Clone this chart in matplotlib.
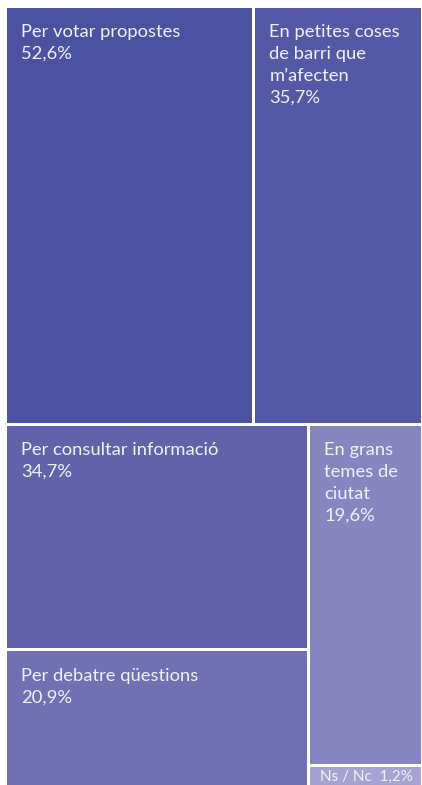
import matplotlib.pyplot as plt
from matplotlib.patches import Rectangle

# Dades del treemap
labels = ["Per votar propostes", "En petites coses\nde barri que\nm\u2019afecten",
          "Per consultar informació", "Per debatre qüestions",
          "En grans\ntemes de\nciutat", "Ns / Nc"]
values = [52.6, 35.7, 34.7, 20.9, 19.6, 1.2]
pct_labels = ["52,6%", "35,7%", "34,7%", "20,9%", "19,6%", "1,2%"]
colors = ["#4B52A1", "#5459A7", "#6262AA", "#7070B2", "#8886C0", "#A6A2D2"]

W_PX, H_PX = 422, 785
x0, y0, x1, y1 = 5, 6, 422, 786
W, H = x1 - x0, y1 - y0
total = sum(values)

rects = []
# fila superior: dos primers valors
top_h = H * (values[0] + values[1]) / total
w0 = W * values[0] / (values[0] + values[1])
rects.append((x0, y0, w0, top_h))
rects.append((x0 + w0, y0, W - w0, top_h))
# part inferior: dues columnes
bot_y = y0 + top_h
bot_h = H - top_h
col1 = values[2] + values[3]
col2 = values[4] + values[5]
cw = W * col1 / (col1 + col2)
h2 = bot_h * values[2] / col1
rects.append((x0, bot_y, cw, h2))
rects.append((x0, bot_y + h2, cw, bot_h - h2))
h4 = bot_h * values[4] / col2
rects.append((x0 + cw, bot_y, W - cw, h4))
rects.append((x0 + cw, bot_y + h4, W - cw, bot_h - h4))

fig = plt.figure(figsize=(W_PX / 100, H_PX / 100), dpi=100)
ax = fig.add_axes([0, 0, 1, 1])
ax.set_xlim(0, W_PX)
ax.set_ylim(H_PX, 0)
ax.axis("off")

gap = 3
for i, (x, y, w, h) in enumerate(rects):
    ax.add_patch(Rectangle((x + gap / 2, y + gap / 2), w - gap, h - gap,
                           facecolor=colors[i], edgecolor="none"))
    if labels[i] == "Ns / Nc":
        ax.text(x + 12, y + 5, labels[i] + "  " + pct_labels[i], color="#F0F0F8",
                fontsize=11, family="Lato", va="top", ha="left")
    else:
        ax.text(x + 16, y + 18, labels[i] + "\n" + pct_labels[i], color="#F0F0F8",
                fontsize=13.2, family="Lato", va="top", ha="left", linespacing=1.45)

fig.savefig("out.png", dpi=100, facecolor="white")
